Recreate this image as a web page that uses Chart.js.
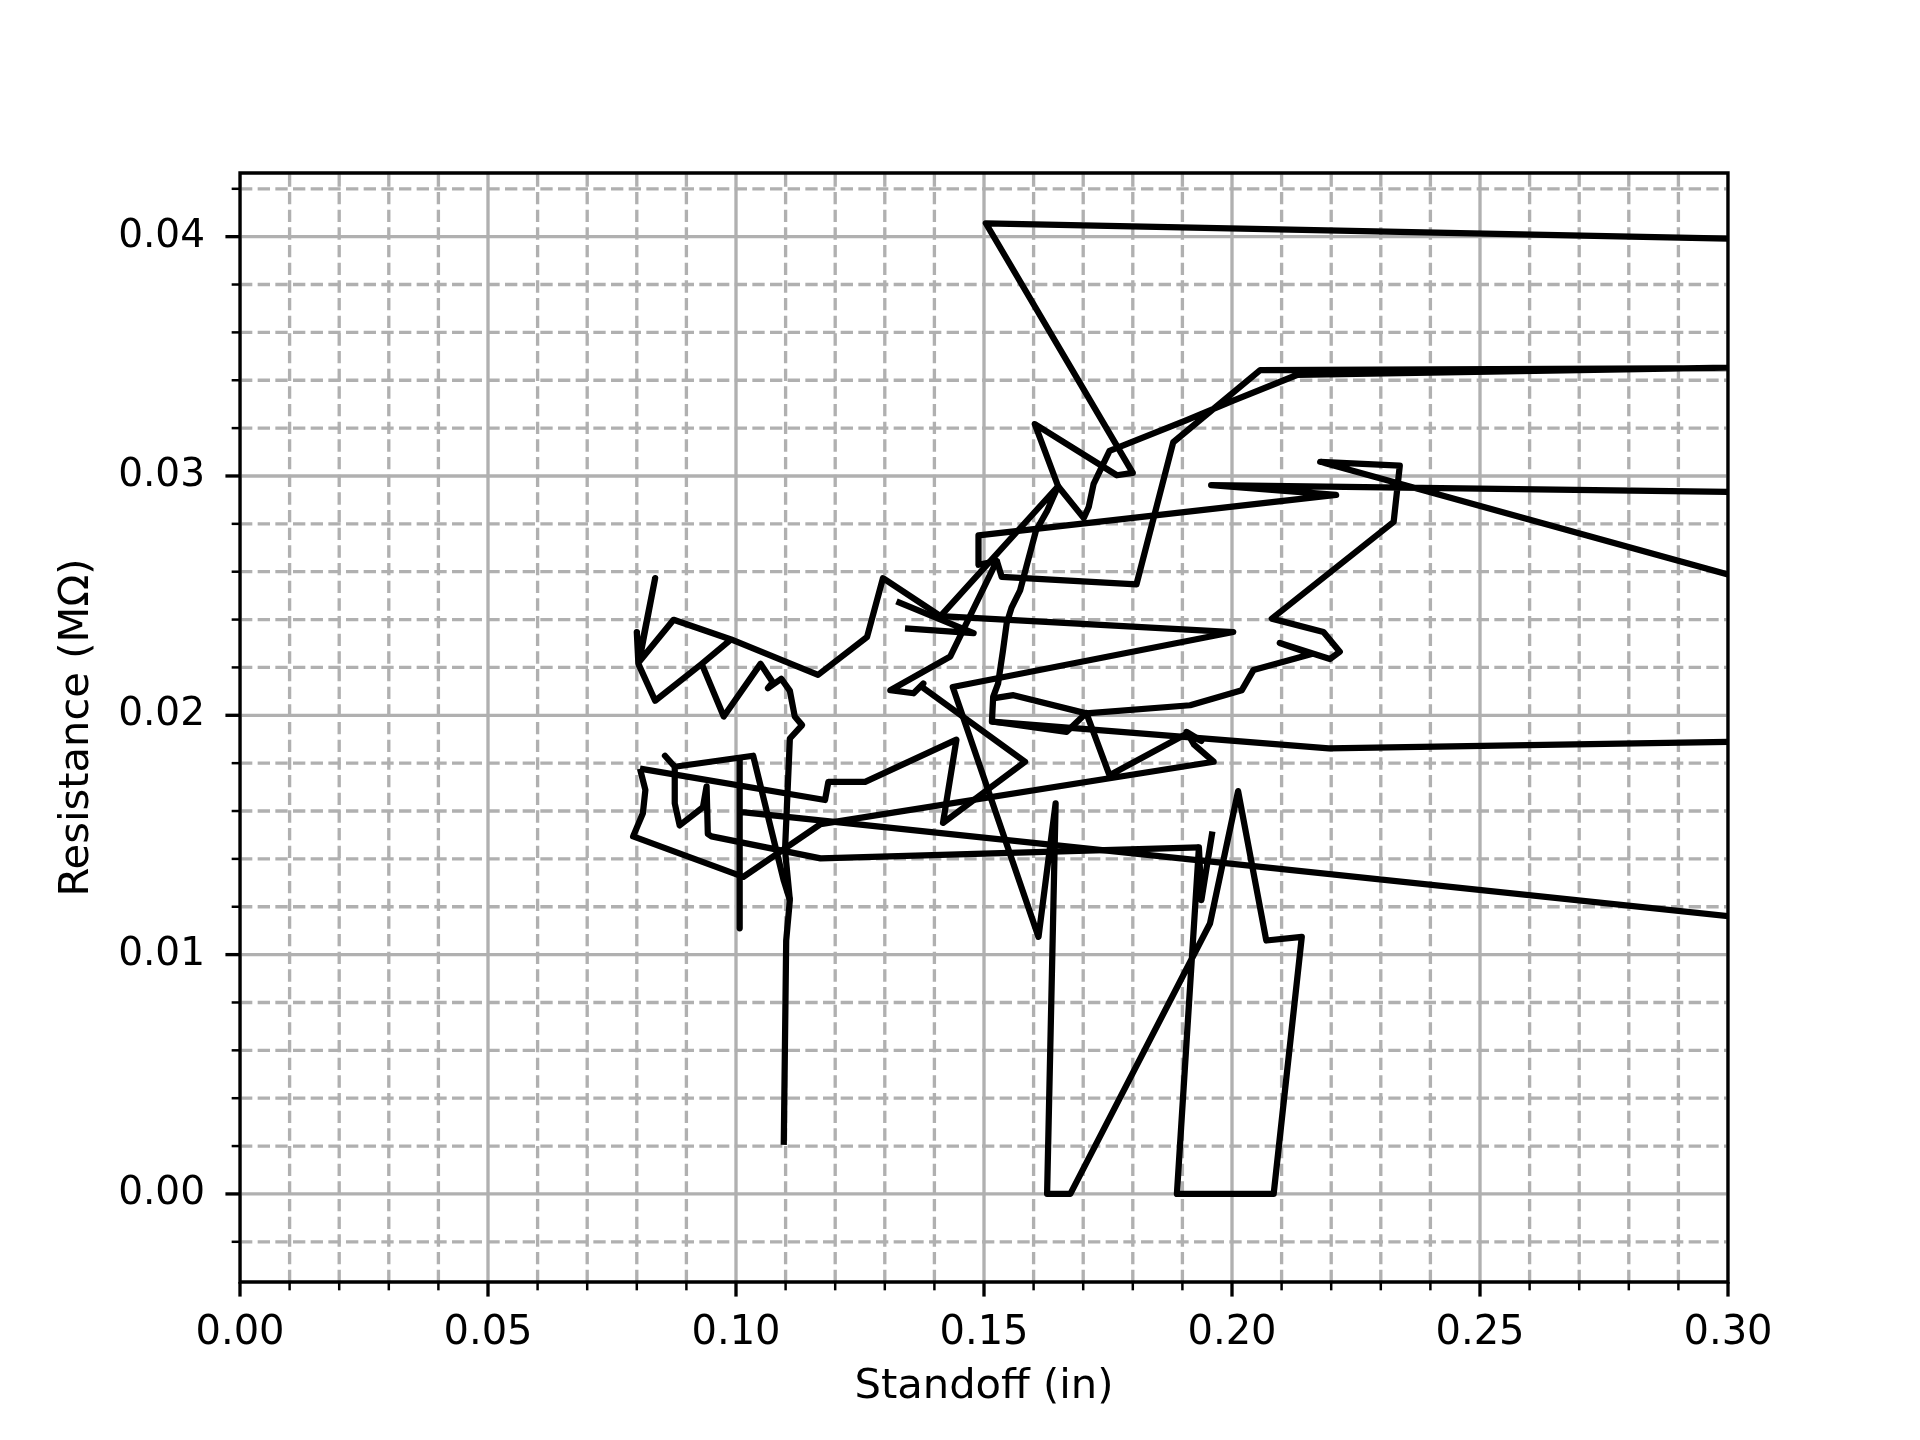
<!DOCTYPE html>
<html>
<head>
<meta charset="utf-8">
<script src="https://cdn.jsdelivr.net/npm/chart.js@4.4.1/dist/chart.umd.min.js"></script>
<style>
html,body{margin:0;padding:0;background:#fff;}
canvas{display:block;}
</style>
</head>
<body>
<canvas id="c" width="1920" height="1440"></canvas>
<script>
// ---- Data (standoff in inches, resistance in MΩ), one array pair per sweep ----
const sweep1Standoff   = [0.10963,0.11012,0.11086,0.10988,0.11086,0.11333,0.11185,0.11086,0.10914,0.10642,0.10741,0.10494,0.09753,0.09309,0.09901,0.08741,0.08032,0.08370,0.08049,0.08000,0.08032,0.08370,0.09309,0.09901,0.11654,0.12642,0.12963,0.14123,0.20025,0.14370,0.16099,0.16444,0.16272,0.16741,0.19556,0.20123,0.20691,0.21407,0.20840,0.18889,0.19333,0.19383,0.19605];
const sweep1Resistance = [0.00205,0.01059,0.01228,0.01437,0.01903,0.01959,0.01995,0.02102,0.02153,0.02113,0.02138,0.02215,0.01995,0.02215,0.02317,0.02399,0.02220,0.02573,0.02225,0.02348,0.02215,0.02061,0.02215,0.02317,0.02169,0.02327,0.02573,0.02414,0.02348,0.02118,0.01074,0.01632,0.00000,0.00000,0.01130,0.01683,0.01059,0.01074,0.00000,0.00000,0.01448,0.01228,0.01514];

const sweep2Standoff   = [0.19333,0.11704,0.09506,0.09432,0.09407,0.09333,0.08864,0.08765,0.08765,0.08568,0.08765,0.10346,0.10963,0.11086];
const sweep2Resistance = [0.01448,0.01402,0.01494,0.01504,0.01703,0.01616,0.01540,0.01632,0.01785,0.01831,0.01785,0.01831,0.01309,0.01228];

const sweep3Standoff   = [0.10074,0.10074,0.10074,0.35,0.35,0.21951,0.15160,0.15185,0.15284,0.15383,0.15457,0.15556,0.15728,0.15852,0.16049,0.16272,0.16494,0.14123];
const sweep3Resistance = [0.01816,0.01110,0.01596,0.01052,0.01906,0.01862,0.01974,0.02077,0.02133,0.02271,0.02384,0.02450,0.02522,0.02619,0.02772,0.02854,0.02957,0.02414];

const sweep4Standoff   = [0.08064,0.11795,0.11862,0.12603,0.14444,0.14173,0.15827,0.13743,0.13778,0.13580,0.13111,0.14321,0.15259,0.14889,0.14889,0.22099,0.19580,0.35,0.35,0.21778,0.23383,0.23259,0.20803,0.21844,0.22173,0.21975,0.20963,0.21605,0.20432,0.20198,0.19156,0.17062,0.15593,0.15210];
const sweep4Resistance = [0.01777,0.01646,0.01722,0.01722,0.01898,0.01550,0.01806,0.02119,0.02133,0.02092,0.02105,0.02246,0.02645,0.02629,0.02752,0.02921,0.02962,0.02920,0.02302,0.03059,0.03043,0.02808,0.02404,0.02348,0.02266,0.02235,0.02302,0.02256,0.02189,0.02105,0.02042,0.02008,0.02084,0.02072];

const sweep5Standoff   = [0.08064,0.08173,0.08123,0.07926,0.10148,0.11704,0.19630,0.19235,0.19086,0.19383,0.19086,0.17531,0.17062,0.16667,0.15160];
const sweep5Resistance = [0.01777,0.01688,0.01591,0.01494,0.01325,0.01545,0.01806,0.01877,0.01931,0.01893,0.01923,0.01749,0.02010,0.01931,0.01974];

const sweep6Standoff   = [0.15259,0.15358,0.18074,0.18815,0.20568,0.35,0.35,0.21309,0.20025,0.19086,0.17531,0.17210,0.17111,0.17012,0.16494,0.16025,0.17679,0.18000,0.15037,0.35];
const sweep6Resistance = [0.02645,0.02578,0.02547,0.03141,0.03442,0.03455,0.03470,0.03422,0.03315,0.03233,0.03105,0.02967,0.02870,0.02824,0.02957,0.03217,0.03003,0.03013,0.04056,0.03971];

const sweep7Standoff   = [0.13235,0.14790,0.13407];
const sweep7Resistance = [0.02476,0.02343,0.02363];

const xMajorTicks = [0, 0.05, 0.10, 0.15, 0.20, 0.25, 0.30];
const yMajorTicks = [0, 0.01, 0.02, 0.03, 0.04];
const xMinorStep = 0.01;
const yMinorStep = 0.002;
const xLimits = [0, 0.30];
const yLimits = [-0.00368, 0.04266];

const sweeps = [
  [sweep1Standoff, sweep1Resistance],
  [sweep2Standoff, sweep2Resistance],
  [sweep3Standoff, sweep3Resistance],
  [sweep4Standoff, sweep4Resistance],
  [sweep5Standoff, sweep5Resistance],
  [sweep6Standoff, sweep6Resistance],
  [sweep7Standoff, sweep7Resistance]
];

// ---- styling constants ----
const PX = 300 / 72; // points -> px (300 dpi figure)
const GRID_COLOR = '#b0b0b0';
const FONT = "'DejaVu Sans', sans-serif";
const TICK_FONT_PX = 40;

function near(a, b) { return Math.abs(a - b) < 1e-9; }

const gridPlugin = {
  id: 'mplGrid',
  beforeDatasetsDraw(chart) {
    const {ctx, chartArea: a, scales: {x, y}} = chart;
    ctx.save();
    ctx.beginPath();
    ctx.rect(a.left, a.top, a.right - a.left, a.bottom - a.top);
    ctx.clip();
    ctx.strokeStyle = GRID_COLOR;
    ctx.lineWidth = 0.8 * PX;
    ctx.lineCap = 'butt';
    // minor dashed
    ctx.setLineDash([3.7 * 0.8 * PX, 1.6 * 0.8 * PX]);
    const xMinN = Math.round((xLimits[1] - xLimits[0]) / xMinorStep);
    for (let i = 0; i <= xMinN; i++) {
      const v = xLimits[0] + i * xMinorStep;
      if (xMajorTicks.some(m => near(m, v))) continue;
      const p = x.getPixelForValue(v);
      ctx.beginPath(); ctx.moveTo(p, a.bottom); ctx.lineTo(p, a.top); ctx.stroke();
    }
    for (let v = -0.002; v <= yLimits[1] + 1e-9; v += yMinorStep) {
      const vv = Math.round(v * 1000) / 1000;
      if (vv < yLimits[0]) continue;
      if (yMajorTicks.some(m => near(m, vv))) continue;
      const p = y.getPixelForValue(vv);
      ctx.beginPath(); ctx.moveTo(a.left, p); ctx.lineTo(a.right, p); ctx.stroke();
    }
    // major solid
    ctx.setLineDash([]);
    xMajorTicks.forEach(v => {
      const p = x.getPixelForValue(v);
      ctx.beginPath(); ctx.moveTo(p, a.bottom); ctx.lineTo(p, a.top); ctx.stroke();
    });
    yMajorTicks.forEach(v => {
      const p = y.getPixelForValue(v);
      ctx.beginPath(); ctx.moveTo(a.left, p); ctx.lineTo(a.right, p); ctx.stroke();
    });
    ctx.restore();
  },
  afterDatasetsDraw(chart) {
    const {ctx, chartArea: a, scales: {x, y}} = chart;
    ctx.save();
    ctx.strokeStyle = '#000';
    ctx.setLineDash([]);
    // spines
    ctx.lineWidth = 0.8 * PX;
    ctx.lineCap = 'square';
    ctx.beginPath();
    ctx.rect(a.left, a.top, a.right - a.left, a.bottom - a.top);
    ctx.stroke();
    ctx.lineCap = 'butt';
    // major ticks
    const majL = 3.5 * PX, minL = 2 * PX;
    ctx.lineWidth = 0.8 * PX;
    xMajorTicks.forEach(v => {
      const p = x.getPixelForValue(v);
      ctx.beginPath(); ctx.moveTo(p, a.bottom); ctx.lineTo(p, a.bottom + majL); ctx.stroke();
    });
    yMajorTicks.forEach(v => {
      const p = y.getPixelForValue(v);
      ctx.beginPath(); ctx.moveTo(a.left, p); ctx.lineTo(a.left - majL, p); ctx.stroke();
    });
    // minor ticks
    ctx.lineWidth = 0.6 * PX;
    const xMinN = Math.round((xLimits[1] - xLimits[0]) / xMinorStep);
    for (let i = 0; i <= xMinN; i++) {
      const v = xLimits[0] + i * xMinorStep;
      if (xMajorTicks.some(m => near(m, v))) continue;
      const p = x.getPixelForValue(v);
      ctx.beginPath(); ctx.moveTo(p, a.bottom); ctx.lineTo(p, a.bottom + minL); ctx.stroke();
    }
    for (let v = -0.002; v <= yLimits[1] + 1e-9; v += yMinorStep) {
      const vv = Math.round(v * 1000) / 1000;
      if (vv < yLimits[0]) continue;
      if (yMajorTicks.some(m => near(m, vv))) continue;
      const p = y.getPixelForValue(vv);
      ctx.beginPath(); ctx.moveTo(a.left, p); ctx.lineTo(a.left - minL, p); ctx.stroke();
    }
    ctx.restore();
  }
};

const datasets = sweeps.map(([xs, ys]) => ({
  data: xs.map((v, i) => ({x: v, y: ys[i]})),
  borderColor: '#000000',
  borderWidth: 1.5 * PX,
  pointRadius: 0,
  pointHoverRadius: 0,
  fill: false,
  tension: 0,
  borderJoinStyle: 'round',
  borderCapStyle: 'butt',
  clip: 0
}));

new Chart(document.getElementById('c'), {
  type: 'line',
  data: {datasets},
  plugins: [gridPlugin],
  options: {
    responsive: false,
    animation: false,
    devicePixelRatio: 1,
    events: [],
    layout: {padding: {left: 0, right: 192, top: 173, bottom: 0}},
    plugins: {legend: {display: false}, tooltip: {enabled: false}, title: {display: false}},
    scales: {
      x: {
        type: 'linear',
        min: xLimits[0], max: xLimits[1],
        afterFit: s => { s.height = 158; },
        grid: {display: false, drawTicks: false},
        border: {display: false},
        ticks: {
          stepSize: 0.05, includeBounds: false, maxRotation: 0, autoSkip: false,
          padding: 28,
          color: '#000',
          font: {family: FONT, size: TICK_FONT_PX},
          callback: v => Number(v).toFixed(2)
        },
        title: {display: true, text: 'Standoff (in)', color: '#000',
                font: {family: FONT, size: 10 * PX}, padding: {top: 0, bottom: 28}}
      },
      y: {
        type: 'linear',
        min: yLimits[0], max: yLimits[1],
        afterFit: s => { s.width = 240; },
        grid: {display: false, drawTicks: false},
        border: {display: false},
        ticks: {
          stepSize: 0.01, includeBounds: false, autoSkip: false,
          padding: 35,
          color: '#000',
          font: {family: FONT, size: 39},
          callback: v => Number(v).toFixed(2)
        },
        title: {display: true, text: 'Resistance (MΩ)', color: '#000',
                font: {family: FONT, size: 10 * PX}, padding: {top: 52, bottom: 0}}
      }
    }
  }
});
</script>
</body>
</html>
